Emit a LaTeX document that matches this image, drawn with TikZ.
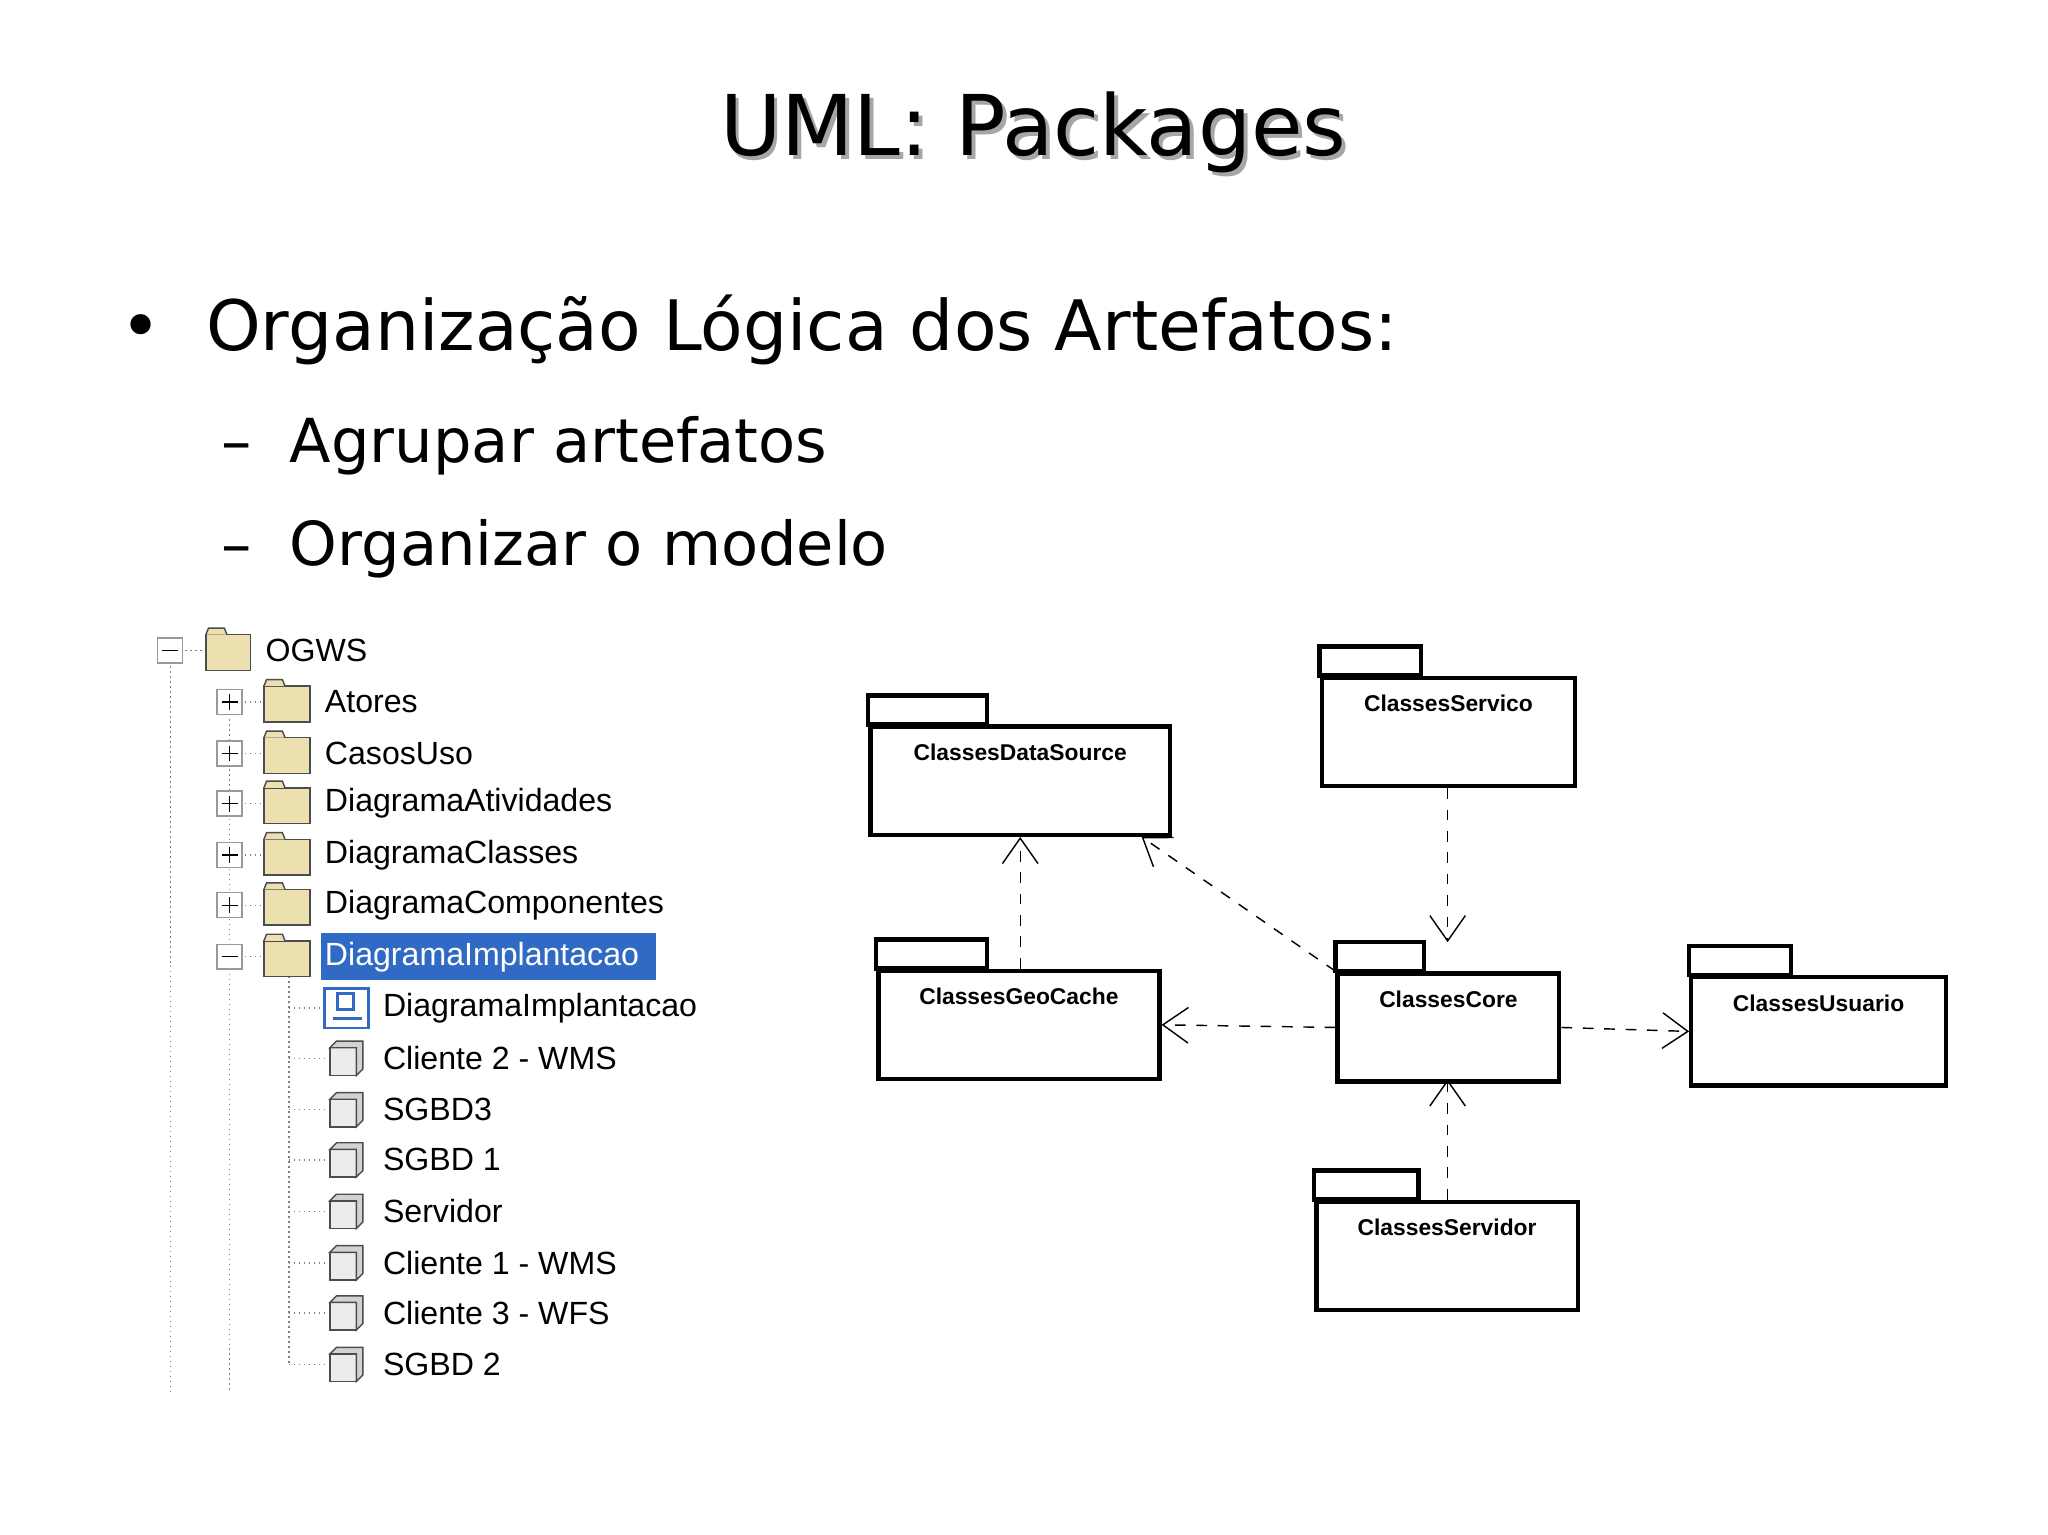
\documentclass[tikz,border=0pt]{standalone}
\usepackage{fontspec}
\setmainfont{DejaVu Sans}
\newfontfamily\treefont{Liberation Sans}
\usetikzlibrary{arrows.meta,calc}
\definecolor{foldercol}{RGB}{236,224,176}
\definecolor{selblue}{RGB}{49,106,197}
\tikzset{
  pkg/.style={draw, line width=1.2pt, rectangle, anchor=north west, inner sep=0pt},
  pkglabel/.style={font=\fontsize{6.4}{8}\selectfont\bfseries\treefont},
  dep/.style={draw, dashed, thin, -{Straight Barb[length=2.5mm,width=3.5mm]}},
  treetext/.style={anchor=west, inner sep=1pt, font=\fontsize{9}{11}\selectfont\treefont},
  tog/.style={draw=gray!80, fill=white, minimum size=7pt, inner sep=0pt, rectangle},
  treeline/.style={densely dotted, gray}
}
\begin{document}
\begin{tikzpicture}[x=0.013cm, y=-0.013cm]
\useasboundingbox (0,0) rectangle (1552,1163);

% title and bullets
\node[gray!70, font=\fontsize{23.5}{28}\selectfont] at (786,103) {UML: Packages};
\node (title) [font=\fontsize{23.5}{28}\selectfont] at (783,100) {UML: Packages};
\node (b1) [anchor=west, font=\fontsize{19.5}{22}\selectfont] at (82,250) {\textbullet\ \ Organização Lógica dos Artefatos:};
\node (b2) [anchor=west, font=\fontsize{17}{20}\selectfont] at (158,338) {–\ \ Agrupar artefatos};
\node (b3) [anchor=west, font=\fontsize{17}{20}\selectfont] at (158,416) {–\ \ Organizar o modelo};

% tree lines
\draw[treeline] (129,505) -- (129,1055);
\draw[treeline] (174,545) -- (174,1055);
\draw[treeline] (219,740) -- (219,1034);
\draw[treeline] (129,493) -- (158,493);

% root
\fill[foldercol, draw=black!70] (156,481) rectangle (190,508);
\draw[black!70, fill=foldercol] (156,481) -- (158,476) -- (170,476) -- (172,481);
\node[tog] (rootbox) at (129,493) {};
\draw (123,493) -- (135,493);
\node[treetext] (ogws) at (198,493) {OGWS};

% folders
\foreach \y/\t/\s in {532/Atores/+, 571/CasosUso/+, 609/DiagramaAtividades/+, 648/DiagramaClasses/+, 686/DiagramaComponentes/+, 725/DiagramaImplantacao/-} {
  \draw[treeline] (174,\y) -- (200,\y);
  \fill[foldercol, draw=black!70] (200,\y-12) rectangle (235,\y+15);
  \draw[black!70, fill=foldercol] (200,\y-12) -- (202,\y-17) -- (214,\y-17) -- (216,\y-12);
  \node[tog] at (174,\y) {};
  \draw (168,\y) -- (180,\y);
  \if\s+ \draw (174,\y-6) -- (174,\y+6); \fi
}
\fill[selblue] (243,707) rectangle (497,743);
\foreach \y/\t in {532/Atores, 571/CasosUso, 609/DiagramaAtividades, 648/DiagramaClasses, 686/DiagramaComponentes}
  \node[treetext] at (243,\y) {\t};
\node[treetext, white] (implant) at (243,725) {DiagramaImplantacao};

% diagram leaf
\draw[treeline] (219,764) -- (245,764);
\draw[selblue, fill=white, thick] (246,749) rectangle (279,779);
\draw[selblue, thick] (256,753) rectangle (268,765) (252,772) -- (274,772);
\node[treetext] at (287,764) {DiagramaImplantacao};

% nodes leaves
\foreach \y/\t in {802/Cliente 2 - WMS, 841/SGBD3, 879/SGBD 1, 918/Servidor, 957/Cliente 1 - WMS, 995/Cliente 3 - WFS, 1034/SGBD 2} {
  \draw[treeline] (219,\y) -- (248,\y);
  \draw[black!70, fill=gray!15] (250,\y-8) rectangle (270,\y+13);
  \draw[black!70, fill=gray!35] (250,\y-8) -- (255,\y-13) -- (275,\y-13) -- (275,\y+8) -- (270,\y+13) -- (270,\y-8) -- cycle;
  \node[treetext] at (287,\y) {\t};
}

% packages
\foreach \n/\xa/\xt/\xb/\ya/\t in {ds/658/748/885/527/ClassesDataSource, serv/1000/1077/1192/490/ClassesServico, geo/664/748/877/712/ClassesGeoCache, core/1012/1079/1180/714/ClassesCore, usr/1280/1357/1473/717/ClassesUsuario, svd/996/1075/1194/887/ClassesServidor} {
  \draw[line width=1.2pt] (\xa,\ya) rectangle (\xt,\ya+22);
  \node[pkg, minimum width=(\xb-\xa)*0.013cm, minimum height=82*0.013cm] (\n) at (\xa,\ya+22) {};
  \node[pkglabel] at ($(\n.north)!0.25!(\n.south)$) {\t};
}
\coordinate (coretop) at (1097,714);
\coordinate (corebot) at (1097,818);

% dependencies
\draw[dep] (serv.south -| coretop) -- (coretop);
\draw[dep] (geo.north -| ds.south) -- (ds.south);
\draw[dep] (core.north west) -- ([xshift=-0.3cm]ds.south east);
\draw[dep] (core.west) -- (geo.east);
\draw[dep] (core.east) -- (usr.west);
\draw[dep] (svd.north -| corebot) -- (corebot);
\end{tikzpicture}
\end{document}
